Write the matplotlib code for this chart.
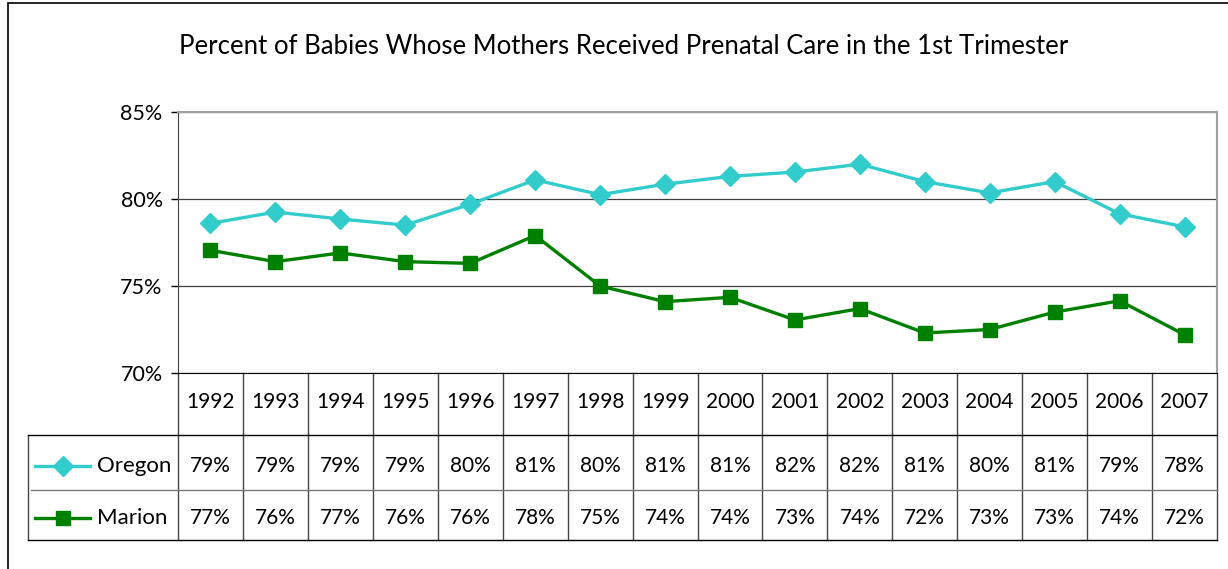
import numpy as np
import matplotlib
matplotlib.use("Agg")
import matplotlib.pyplot as plt
from matplotlib.patches import Rectangle
from matplotlib.lines import Line2D

plt.rcParams['font.family'] = ['Lato', 'DejaVu Sans']

# datos
years = [1992, 1993, 1994, 1995, 1996, 1997, 1998, 1999,
         2000, 2001, 2002, 2003, 2004, 2005, 2006, 2007]
oregon = [78.6, 79.25, 78.85, 78.5, 79.7, 81.1, 80.25, 80.85,
          81.3, 81.55, 82.0, 81.0, 80.35, 81.0, 79.15, 78.4]
marion = [77.05, 76.4, 76.9, 76.4, 76.3, 77.9, 75.0, 74.1,
          74.35, 73.05, 73.7, 72.3, 72.5, 73.5, 74.15, 72.2]
oregon_lbl = ['79%', '79%', '79%', '79%', '80%', '81%', '80%', '81%',
              '81%', '82%', '82%', '81%', '80%', '81%', '79%', '78%']
marion_lbl = ['77%', '76%', '77%', '76%', '76%', '78%', '75%', '74%',
              '74%', '73%', '74%', '72%', '73%', '73%', '74%', '72%']
series = [('Oregon', oregon, oregon_lbl, '#33CCCC', 'D', 10.5),
          ('Marion', marion, marion_lbl, '#008000', 's', 10.5)]

W, H = 1228, 569
fig = plt.figure(figsize=(W / 100, H / 100), dpi=100)

# marco exterior
fig.patches.append(Rectangle((8 / W, -0.05), 1.1, (H - 3) / H + 0.05,
                             transform=fig.transFigure, fill=False,
                             edgecolor='black', linewidth=1.2))

x0, x1, ytop, ybot = 178, 1217, 112, 373
ax = fig.add_axes([x0 / W, (H - ybot) / H, (x1 - x0) / W, (ybot - ytop) / H])

x = np.arange(len(years))
for name, vals, lbl, col, mk, ms in series:
    ax.plot(x, vals, color=col, linewidth=2.4, marker=mk, markersize=ms, zorder=3)

ax.set_xlim(-0.5, len(years) - 0.5)
ax.set_ylim(70, 85)
ax.set_yticks([70, 75, 80, 85])
ax.set_yticklabels(['70%', '75%', '80%', '85%'], fontsize=15.5)
ax.tick_params(axis='y', length=5, width=1, pad=6)
ax.set_xticks([])
ax.yaxis.grid(True, color='#404040', linewidth=0.9)
ax.set_axisbelow(True)
for s in ['top', 'right']:
    ax.spines[s].set_color('#a0a0a0')
    ax.spines[s].set_linewidth(1.5)
ax.spines['left'].set_color('#404040')
ax.spines['bottom'].set_color('black')

# tabla de datos
px = (x1 - x0) / len(years)
tr = ax.get_xaxis_transform()
hgt = ybot - ytop
def yf(p):
    return -(p - ybot) / hgt
r0, r1, r2, r3 = yf(373), yf(435), yf(490), yf(540)
xl = -0.5 - (x0 - 28) / px
xr = len(years) - 0.5

lines = []
for i in range(len(years) + 1):
    lines.append(([i - 0.5, i - 0.5], [r0, r3], '#444444'))
lines.append(([xl, xl], [r1, r3], '#444444'))
lines.append(([xl, xr], [r1, r1], 'black'))
lines.append(([-0.5 - (x0 - 31) / px, xr], [r2, r2], '#777777'))
lines.append(([xl, xr], [r3, r3], 'black'))
for xs, ys, c in lines:
    ax.add_line(Line2D(xs, ys, transform=tr, color=c,
                       linewidth=1.0, clip_on=False))

for i, yr in enumerate(years):
    ax.text(i, yf(402), str(yr), transform=tr, ha='center', va='center', fontsize=15)

for (name, vals, lbl, col, mk, ms), yc in zip(series, [yf(466), yf(518)]):
    for i, t in enumerate(lbl):
        ax.text(i, yc, t, transform=tr, ha='center', va='center', fontsize=15)
    lx0 = -0.5 - (x0 - 35) / px
    lx1 = -0.5 - (x0 - 90) / px
    ax.add_line(Line2D([lx0, lx1], [yc, yc], transform=tr, color=col,
                       linewidth=2.4, clip_on=False))
    ax.add_line(Line2D([(lx0 + lx1) / 2], [yc], transform=tr, color=col,
                       marker=mk, markersize=ms, clip_on=False))
    ax.text(-0.5 - (x0 - 97) / px, yc, name, transform=tr, ha='left',
            va='center', fontsize=16)

fig.text(624 / W, 1 - 47 / H, 'Percent of Babies Whose Mothers Received Prenatal Care in the 1st Trimester',
         ha='center', va='center', fontsize=18.5)

fig.savefig('out.png', dpi=100)
